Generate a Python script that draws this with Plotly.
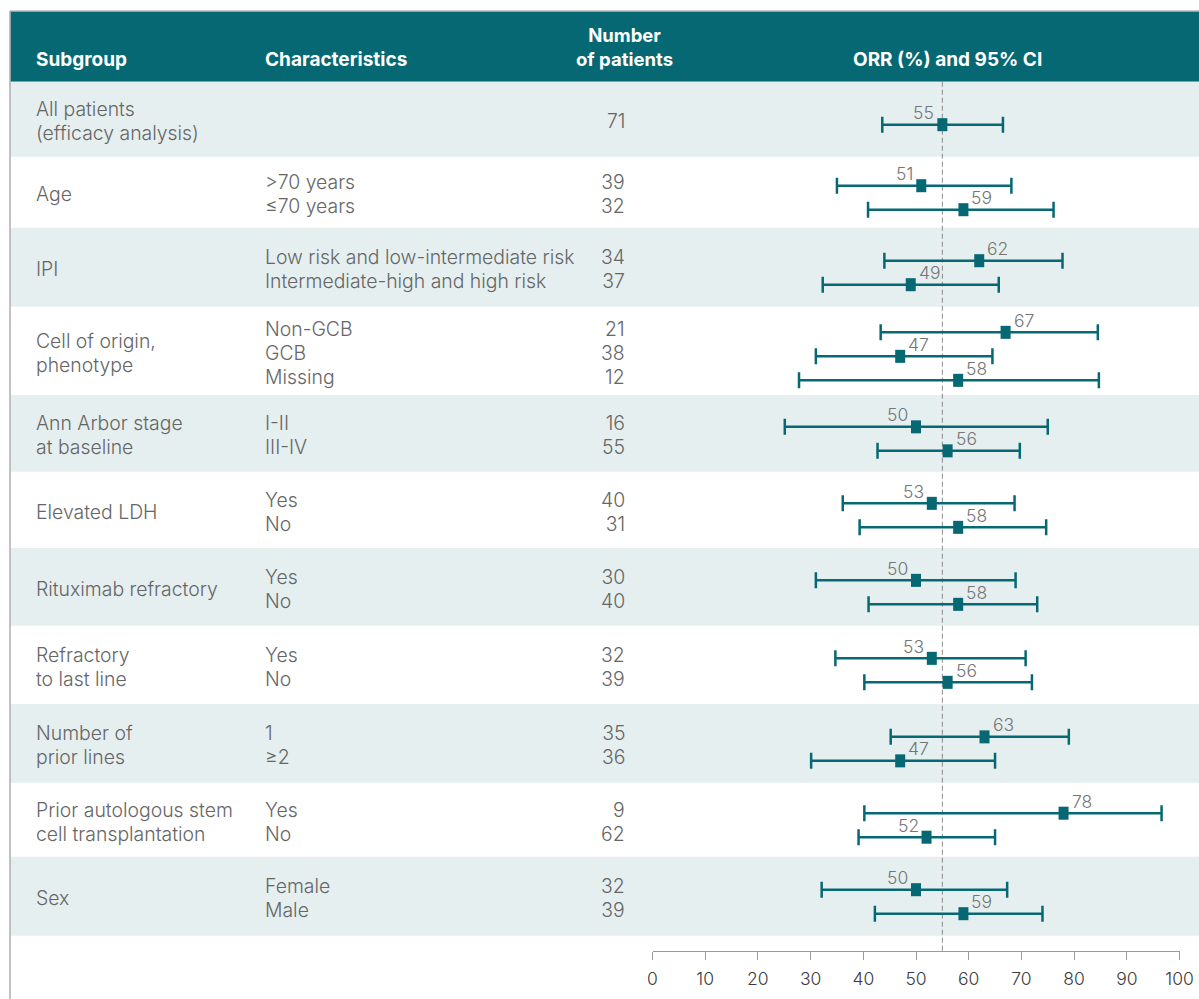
import plotly.graph_objects as go

# ---------------- data ----------------
subgroups = ["All patients<br>(efficacy analysis)", "Age", "IPI", "Cell of origin,<br>phenotype",
             "Ann Arbor stage<br>at baseline", "Elevated LDH", "Rituximab refractory",
             "Refractory<br>to last line", "Number of<br>prior lines",
             "Prior autologous stem<br>cell transplantation", "Sex"]
characteristics = [[""], [">70 years", "≤70 years"],
                   ["Low risk and low-intermediate risk", "Intermediate-high and high risk"],
                   ["Non-GCB", "GCB", "Missing"], ["I-II", "III-IV"], ["Yes", "No"], ["Yes", "No"],
                   ["Yes", "No"], ["1", "≥2"], ["Yes", "No"], ["Female", "Male"]]
n_patients = [[71], [39, 32], [34, 37], [21, 38, 12], [16, 55], [40, 31], [30, 40], [32, 39],
              [35, 36], [9, 62], [32, 39]]
orr = [[55], [51, 59], [62, 49], [67, 47, 58], [50, 56], [53, 58], [50, 58], [53, 56],
       [63, 47], [78, 52], [50, 59]]
ci_low = [[43.6], [35.0, 40.9], [44.0, 32.3], [43.3, 31.0, 27.8], [25.1, 42.7], [36.1, 39.3],
          [31.0, 41.0], [34.7, 40.2], [45.2, 30.1], [40.2, 39.1], [32.1, 42.2]]
ci_high = [[66.5], [68.1, 76.1], [77.8, 65.7], [84.5, 64.5, 84.7], [75.0, 69.7], [68.7, 74.7],
           [68.9, 73.0], [70.8, 72.0], [79.0, 65.0], [96.6, 65.0], [67.3, 74.0]]
reference_orr = 55
x_ticks = [0, 10, 20, 30, 40, 50, 60, 70, 80, 90, 100]

# ---------------- styles / layout geometry ----------------
W, H = 1199, 999
TEAL = "#066872"
BAND = "#e5eff0"
TXT = "#666666"
FONT = "Inter"
header_top, header_bottom = 11.5, 81.7
axis_y = 950.7
band_heights = [75, 71, 79, 88.3, 76.7, 76.3, 77.7, 78.3, 78.7, 74, 79]   # table row heights (px)
pitch, item_offset, text_lift = 24.0, 5.5, 3.5
LINE_FONT = pitch / 1.3          # plotly line spacing is 1.3 em -> 24 px between lines
BODY_PX = 19.4                   # rendered glyph size of body text


def px_x(p):
    return p / W


def px_y(p):
    return 1 - p / H


def body(lines, size=BODY_PX):
    return "<br>".join('<span style="font-size:%.1fpx">%s</span>' % (size, t) for t in lines)


body_font = dict(family=FONT, size=LINE_FONT, color=TXT, weight=300)
shapes = []
annotations = []


def add_text(x, y, text, anchor, font, align="left"):
    annotations.append(dict(xref="paper", yref="paper", x=px_x(x), y=px_y(y), text=text,
                            showarrow=False, xanchor=anchor, yanchor="middle", align=align,
                            font=font))


# header
shapes.append(dict(type="rect", xref="paper", yref="paper", x0=px_x(10.5), x1=1.0,
                   y0=px_y(header_bottom), y1=px_y(header_top), fillcolor=TEAL,
                   line=dict(width=0), layer="below"))

xs, ys, lo_err, hi_err = [], [], [], []
top = header_bottom
for g, name in enumerate(subgroups):
    n = len(characteristics[g])
    h = band_heights[g]
    if g % 2 == 0:
        shapes.append(dict(type="rect", xref="paper", yref="paper", x0=px_x(10.5), x1=1.0,
                           y0=px_y(top + h), y1=px_y(top), fillcolor=BAND,
                           line=dict(width=0), layer="below"))
    center = top + h / 2 + item_offset
    add_text(34, center - text_lift, body(name.split("<br>")), "left", body_font)
    if any(characteristics[g]):
        add_text(263, center - text_lift, body(characteristics[g]), "left", body_font)
    add_text(627, center - text_lift, body([str(k) for k in n_patients[g]]), "right",
             body_font, align="right")
    for i in range(n):
        yy = center - (n - 1) * pitch / 2 + i * pitch
        v = orr[g][i]
        xs.append(v)
        ys.append(yy)
        lo_err.append(v - ci_low[g][i])
        hi_err.append(ci_high[g][i] - v)
        left = 50 <= v <= reference_orr
        annotations.append(dict(xref="x", yref="y", x=v, y=yy, text=str(v), showarrow=False,
                                xanchor="right" if left else "left", yanchor="middle",
                                xshift=-6 if left else 6, yshift=12,
                                font=dict(family=FONT, size=17.5, color="#757575", weight=300)))
    top += h

# dashed reference line
shapes.append(dict(type="line", xref="x", yref="paper", x0=reference_orr, x1=reference_orr,
                   y0=px_y(axis_y), y1=px_y(header_bottom),
                   line=dict(color="#8a8a8a", width=1, dash="5px,3px"), layer="below"))
# frame lines (top and left)
shapes.append(dict(type="line", xref="paper", yref="paper", x0=px_x(10), x1=1.0,
                   y0=px_y(11), y1=px_y(11), line=dict(color="#9a9a9a", width=1.2)))
shapes.append(dict(type="line", xref="paper", yref="paper", x0=px_x(10), x1=px_x(10),
                   y0=0, y1=px_y(11), line=dict(color="#9a9a9a", width=1.2)))

# header texts
hfont = dict(family=FONT, size=19, color="white", weight="bold")
add_text(34, 59.5, "Subgroup", "left", hfont)
add_text(263, 59.5, "Characteristics", "left", hfont)
add_text(624, 47.5, body(["Number", "of patients"], 18.5), "center",
         dict(family=FONT, size=LINE_FONT, color="white", weight="bold"), align="center")
add_text(947, 59.5, "ORR (%) and 95% CI", "center", hfont)

fig = go.Figure()
fig.add_trace(go.Scatter(
    x=xs, y=ys, mode="markers",
    marker=dict(symbol="line-ns", size=9.3, color=TEAL, line=dict(color=TEAL, width=10)),
    error_x=dict(type="data", symmetric=False, array=hi_err, arrayminus=lo_err,
                 color=TEAL, thickness=2.5, width=8),
    cliponaxis=False, hoverinfo="skip", showlegend=False))

fig.update_layout(
    width=W, height=H, autosize=False,
    margin=dict(l=0, r=0, t=0, b=0, pad=0, autoexpand=False),
    paper_bgcolor="white", plot_bgcolor="rgba(0,0,0,0)",
    shapes=shapes, annotations=annotations, showlegend=False,
    xaxis=dict(domain=[652.5 / W, 1179.5 / W], range=[0, 100], tickmode="array",
               tickvals=x_ticks, ticks="outside", ticklen=8, tickwidth=1, tickcolor="#9a9a9a",
               showline=True, linecolor="#9a9a9a", linewidth=1, showgrid=False, zeroline=False,
               tickfont=dict(family=FONT, size=17.5, color="#3c3c3c", weight=300),
               fixedrange=True, automargin=False, anchor="y", ticklabelstandoff=4),
    yaxis=dict(domain=[1 - axis_y / H, 1], range=[axis_y, 0], visible=False, fixedrange=True,
               automargin=False),
)

fig.write_html("out.html")
